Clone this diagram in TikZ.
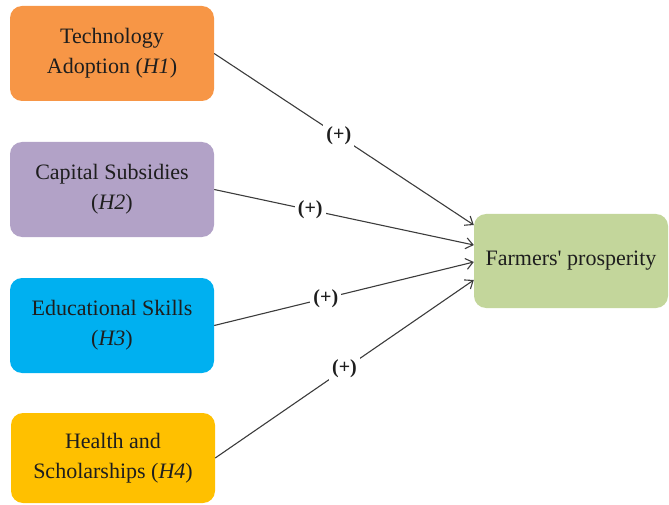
\documentclass[tikz,border=0pt]{standalone}
\usepackage{fontspec}
\setmainfont{Liberation Serif}
\usetikzlibrary{arrows.meta,calc}
\definecolor{corange}{RGB}{247,150,70}
\definecolor{cpurple}{RGB}{178,162,199}
\definecolor{cblue}{RGB}{0,176,240}
\definecolor{cgold}{RGB}{255,192,0}
\definecolor{cgreen}{RGB}{195,214,155}
\definecolor{ctext}{RGB}{30,30,30}
\definecolor{cline}{RGB}{60,60,60}
\tikzset{
  hbox/.style={rounded corners=12pt, minimum width=204pt, minimum height=95pt, inner sep=0pt,
    align=center, text=ctext, font=\fontsize{22}{30}\selectfont},
  conn/.style={draw=cline, line width=1.1pt, -{Straight Barb[length=7pt,width=11pt,line width=1.1pt]}},
  plus/.style={fill=white, inner sep=3pt, text=ctext, font=\fontsize{20}{22}\selectfont\bfseries}
}
\begin{document}
\begin{tikzpicture}[x=1pt,y=1pt]
\useasboundingbox (0,0) rectangle (669,-505);
\node[hbox, fill=corange] (h1) at (112,-53.5) {Technology\\Adoption (\textit{H1})};
\node[hbox, fill=cpurple] (h2) at (112,-189.5) {Capital Subsidies\\(\textit{H2})};
\node[hbox, fill=cblue] (h3) at (112,-325.5) {Educational Skills\\(\textit{H3})};
\node[hbox, fill=cgold, minimum height=90pt] (h4) at (113,-458) {Health and\\Scholarships (\textit{H4})};
\node[hbox, fill=cgreen, minimum width=194pt, minimum height=94pt] (fp) at (571,-261) {Farmers\textquotesingle{} prosperity};
\draw[conn] (h1.east) -- node[plus, pos=0.48] (l1) {(+)} ($(fp.west)+(0,36)$);
\draw[conn] (h2.east) -- node[plus, pos=0.37] (l2) {(+)} ($(fp.west)+(0,16)$);
\draw[conn] (h3.east) -- node[plus, pos=0.43] (l3) {(+)} ($(fp.west)+(0,-1)$);
\draw[conn] (h4.east) -- node[plus, pos=0.5] (l4) {(+)} ($(fp.west)+(0,-19)$);
\end{tikzpicture}
\end{document}
